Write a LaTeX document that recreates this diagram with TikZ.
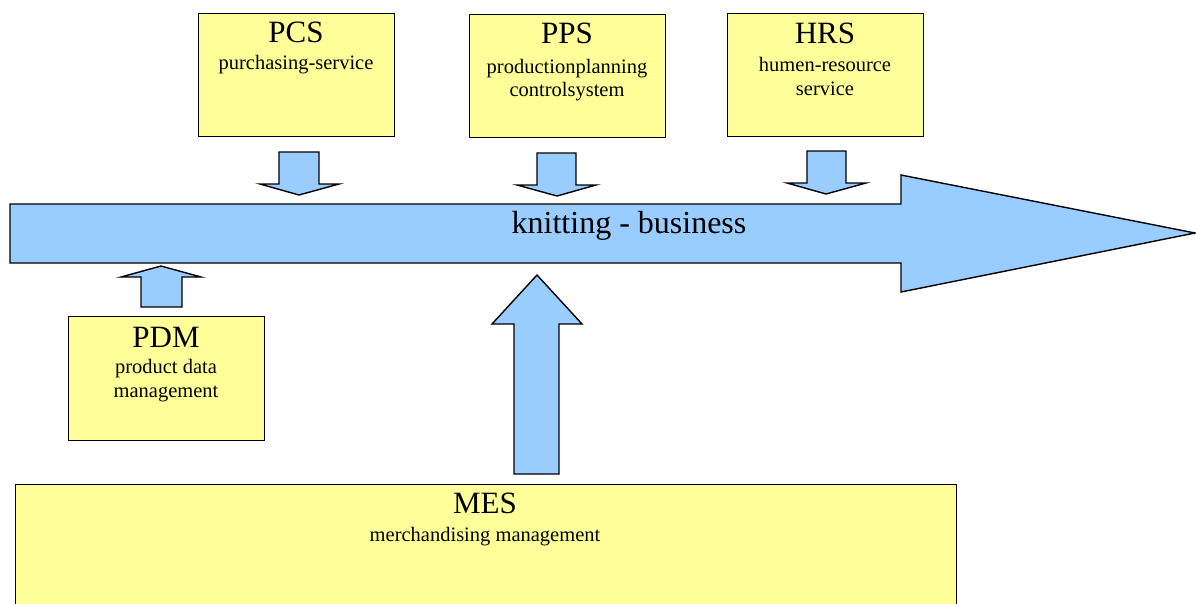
\documentclass[tikz,border=0pt]{standalone}
\usepackage{fontspec}
\setmainfont{Liberation Serif}
\begin{document}
\begin{tikzpicture}[x=1pt,y=-1pt,
  box/.style={draw=black,line width=1.4pt,fill=boxyellow,inner sep=0pt,anchor=north west},
  blk/.style={draw=black,line width=1.4pt,fill=arrowblue,line join=miter},
  ttl/.style={anchor=base,inner sep=0pt,font=\fontsize{31}{36}\selectfont},
  sub/.style={anchor=base,inner sep=0pt,font=\fontsize{20.5}{24}\selectfont}]
\definecolor{boxyellow}{HTML}{FFFF99}
\definecolor{arrowblue}{HTML}{99CCFF}
\clip (0,0) rectangle (1196,603);
% main arrow
\draw[blk] (10,204) -- (901,204) -- (901,175) -- (1195,233) -- (901,292) -- (901,263) -- (10,263) -- cycle;
\node[ttl,font=\fontsize{32}{36}\selectfont] (kb) at (629,233) {knitting - business};
% boxes
\node[box,minimum width=196,minimum height=123] (pcs) at (198,13) {};
\node[box,minimum width=196,minimum height=123] (pps) at (469,14) {};
\node[box,minimum width=196,minimum height=123] (hrs) at (727,13) {};
\node[box,minimum width=196,minimum height=124] (pdm) at (68,316) {};
\node[box,minimum width=941,minimum height=200] (mes) at (15,484) {};
% texts
\node[ttl] (pcst) at (296,42) {PCS};
\node[sub] (pcss) at (296,69) {purchasing-service};
\node[ttl] (ppst) at (567,43) {PPS};
\node[sub] (ppss1) at (567,73) {productionplanning};
\node[sub] (ppss2) at (567,96) {controlsystem};
\node[ttl] (hrst) at (825,43) {HRS};
\node[sub] (hrss1) at (825,71) {humen-resource};
\node[sub] (hrss2) at (825,95) {service};
\node[ttl] (pdmt) at (166,347) {PDM};
\node[sub] (pdms1) at (166,373) {product data};
\node[sub] (pdms2) at (166,397) {management};
\node[ttl] (mest) at (485,513) {MES};
\node[sub] (mess) at (485,541) {merchandising management};
% small down arrows
\draw[blk] (279,152) -- (319,152) -- (319,184) -- (339,184) -- (299,195) -- (260,184) -- (279,184) -- cycle;
\draw[blk] (537,153) -- (576,153) -- (576,185) -- (596,185) -- (557,196) -- (517,185) -- (537,185) -- cycle;
\draw[blk] (807,151) -- (846,151) -- (846,183) -- (866,183) -- (826,194) -- (787,183) -- (807,183) -- cycle;
% PDM up arrow
\draw[blk] (141,307) -- (182,307) -- (182,277) -- (201,277) -- (161,266) -- (121,277) -- (141,277) -- cycle;
% MES up arrow
\draw[blk] (514,474) -- (559,474) -- (559,324) -- (582,324) -- (537,275) -- (492,324) -- (514,324) -- cycle;
\end{tikzpicture}
\end{document}
